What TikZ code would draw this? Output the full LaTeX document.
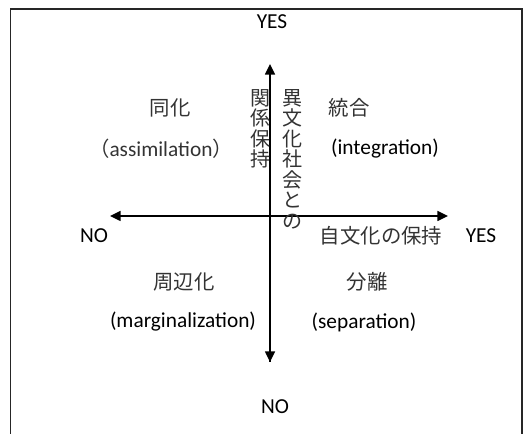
\documentclass[tikz,border=0pt]{standalone}
\usepackage{fontspec}
\setmainfont{Carlito}
\newfontfamily\jpfont{Noto Sans CJK JP}
\usetikzlibrary{arrows.meta}
\newcommand{\latsize}{\fontsize{16}{18}\selectfont}
\newcommand{\jpsize}{\fontsize{15.3}{17}\selectfont}
\tikzset{
  lat/.style={font=\latsize, inner sep=0pt},
  jp/.style={font=\jpfont\jpsize, inner sep=0pt, text=black!80},
  jpv/.style={font=\jpfont\fontsize{15}{15.4}\selectfont, inner sep=0pt, align=center, text=black!80},
  axis/.style={line width=1.1pt, -{Triangle[length=8pt,width=7.5pt]}},
  frame/.style={line width=1.4pt, draw=black!85}
}
\begin{document}
\begin{tikzpicture}[x=0.75pt,y=-0.75pt]
\useasboundingbox (0,0) rectangle (532,434);
\draw[frame] (10.5,440) -- (10.5,9) -- (522,9) -- (522,440);
% axes
\coordinate (c) at (270,216);
\coordinate (top) at (270,64);
\coordinate (bot) at (270,362);
\coordinate (lft) at (110,216);
\coordinate (rgt) at (448,216);
\draw[axis] (bot) -- (top);
\draw[axis] (c) -- (bot);
\draw[axis] (c) -- (lft);
\draw[axis] (c) -- (rgt);
% axis labels
\node[lat] (yestop) at (272,22) {YES};
\node[lat] (nobot) at (275,407) {NO};
\node[lat] (nolft) at (94,236) {NO};
\node[lat] (yesrgt) at (481,236) {YES};
\node[jp] (jibunka) at (381,236) {自文化の保持};
\node[jpv] (kankei) at (260,129) {関\\係\\保\\持};
\node[jpv] (ibunka) at (292,159) {異\\文\\化\\社\\会\\と\\の};
% quadrants
\node[jp] (doka) at (170,108) {同化};
\node[jp] (doka2) at (161,149) {（{\fontspec{Carlito}\latsize assimilation}）};
\node[jp] (togo) at (349,108) {統合};
\node[lat] (togo2) at (385,149) {(integration)};
\node[jp] (shuhen) at (184,282) {周辺化};
\node[lat] (shuhen2) at (183,322) {(marginalization)};
\node[jp] (bunri) at (367,282) {分離};
\node[lat] (bunri2) at (364,322) {(separation)};
\end{tikzpicture}
\end{document}
